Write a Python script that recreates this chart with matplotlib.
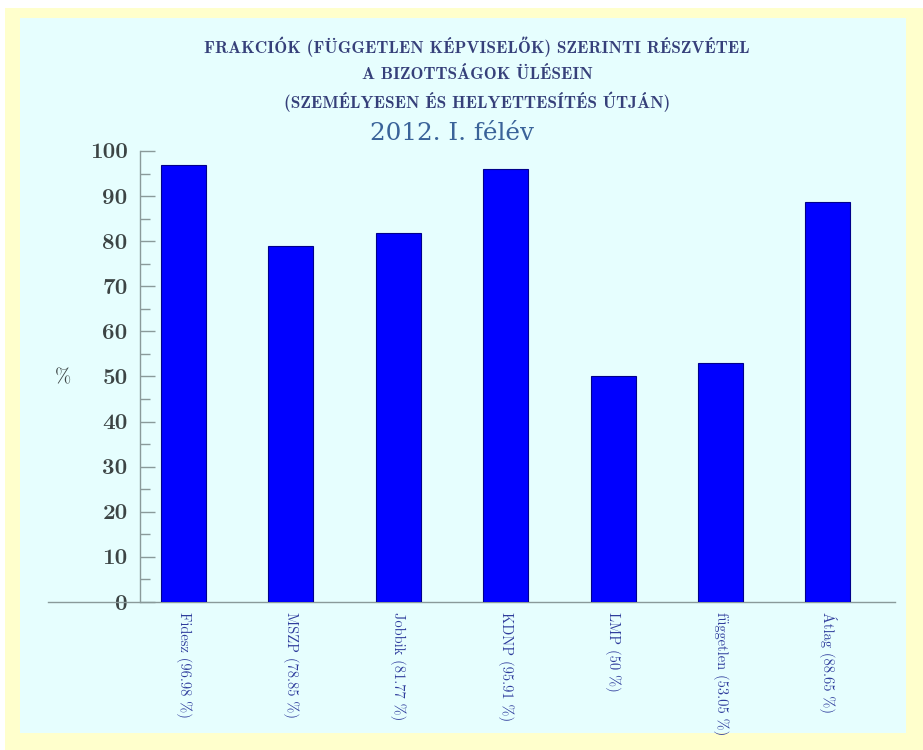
import numpy as np
import matplotlib
matplotlib.use("Agg")
import matplotlib.pyplot as plt
from matplotlib.patches import Rectangle

# data
parties = ["Fidesz", "MSZP", "Jobbik", "KDNP", "LMP", "független", "Átlag"]
values = [96.98, 78.85, 81.77, 95.91, 50, 53.05, 88.65]
value_txt = ["96.98", "78.85", "81.77", "95.91", "50", "53.05", "88.65"]
labels = ["%s (%s %%)" % (p, v) for p, v in zip(parties, value_txt)]

title_lines = ["FRAKCIÓK (FÜGGETLEN KÉPVISELŐK) SZERINTI RÉSZVÉTEL",
               "A BIZOTTSÁGOK ÜLÉSEIN",
               "(SZEMÉLYESEN ÉS HELYETTESÍTÉS ÚTJÁN)"]
subtitle = "2012. I. félév"

LM = ["Latin Modern Roman", "DejaVu Serif"]
LMD = ["Latin Modern Roman Demi", "Latin Modern Roman", "DejaVu Serif"]

W, H = 923, 750
fig = plt.figure(figsize=(W / 100, H / 100), dpi=100, facecolor="white")

# yellow frame with light cyan inside
fig.patches.append(Rectangle((5 / W, 0), (W - 5) / W, (H - 8) / H, transform=fig.transFigure,
                             facecolor="#FFFFCC", edgecolor="none", zorder=-10))
fig.patches.append(Rectangle((20 / W, (H - 733) / H), (906 - 20) / W, (733 - 18) / H,
                             transform=fig.transFigure, facecolor="#E6FEFE",
                             edgecolor="none", zorder=-9))

left, right = 140, 895
top, bottom = 151, 602
ax = fig.add_axes([left / W, (H - bottom) / H, (right - left) / W, (bottom - top) / H])
ax.set_facecolor("none")

x = np.arange(len(values))
ax.bar(x, values, width=0.42, color="#0000FF", edgecolor="#00008B", linewidth=0.8, zorder=3)

ax.set_xlim(-0.405, 6.625)
ax.set_ylim(0, 100)

for s in ("top", "right", "bottom"):
    ax.spines[s].set_visible(False)
ax.spines["left"].set_color("#8a9a9a")
ax.spines["left"].set_linewidth(1.0)

# baseline reaching left of the y axis
ax.axhline(0, xmin=-(left - 48) / (right - left), xmax=1, color="#8a9a9a", lw=1.0, clip_on=False)

ax.set_yticks(np.arange(0, 101, 10))
ax.set_yticks(np.arange(5, 100, 10), minor=True)
ax.tick_params(axis="y", which="major", direction="in", length=10.5, width=1.0, color="#8a9a9a",
               pad=9, labelsize=13, labelcolor="#3c4444")
ax.tick_params(axis="y", which="minor", direction="in", length=7, width=1.0, color="#8a9a9a")
for t in ax.get_yticklabels():
    t.set_fontfamily(LM)
    t.set_fontweight("bold")

ax.set_xticks(x)
ax.set_xticklabels(labels, rotation=270, family=LM, fontsize=12,
                   color="#2e3c9c", va="top", ha="center")
ax.tick_params(axis="x", length=0, pad=7)

fig.text(63 / W, 1 - 378 / H, "%", ha="center", va="center", family=LM,
         fontsize=14, color="#3c4444")

ys = [47, 74, 102]
titles = [fig.text(477 / W, 1 - yy / H, line, ha="center", va="center", family=LMD,
                   fontsize=12, color="#36407a") for line, yy in zip(title_lines, ys)]
sub = fig.text(452 / W, 1 - 133 / H, subtitle, ha="center", va="center", family="DejaVu Serif",
               fontsize=15, color="#3a6399")

# scale fonts so the text lengths match the reference
fig.canvas.draw()
r = fig.canvas.get_renderer()


def fit(texts, ref, target, horizontal=True):
    bb = ref.get_window_extent(r)
    size = bb.width if horizontal else bb.height
    k = target / size
    for t in texts:
        t.set_fontsize(t.get_fontsize() * k)


fit(titles, titles[0], 543)
fit([sub], sub, 165)
fit(ax.get_xticklabels(), ax.get_xticklabels()[0], 106, horizontal=False)
fit(ax.get_yticklabels(), ax.get_yticklabels()[-1], 38)

fig.savefig("out.png", dpi=100, facecolor=fig.get_facecolor())
